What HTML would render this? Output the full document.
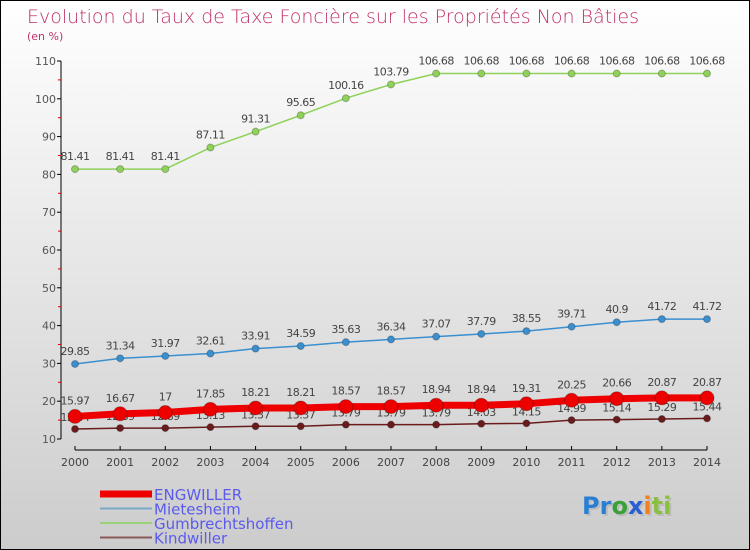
<!DOCTYPE html>
<html><head><meta charset="utf-8"><style>
body{margin:0;}
#c{width:750px;height:550px;position:relative;overflow:hidden;}
svg text{font-family:"DejaVu Sans","Liberation Sans",sans-serif;}
</style></head><body>
<div id="c">
<svg id="s" width="750" height="550" xmlns="http://www.w3.org/2000/svg">
<defs><linearGradient id="bg" x1="0" y1="0" x2="0" y2="1"><stop offset="0" stop-color="#ffffff"/><stop offset="1" stop-color="#cccccc"/></linearGradient></defs>
<rect x="0.5" y="0.5" width="749" height="549" fill="url(#bg)" stroke="#000"/>
<text x="27" y="23" font-size="19" fill="#c0306a" style="font-weight:200">Evolution du Taux de Taxe Foncière sur les Propriétés Non Bâties</text>
<text x="27" y="40" font-size="11" fill="#c0306a">(en %)</text>
<g id="axes"></g><g id="series"></g><g id="legend"></g>
<g font-size="24" font-weight="bold">
<text x="584" y="516" fill="#aaa" opacity="0.5">Proxiti</text>
<text x="582" y="514"><tspan fill="#2a7fd4">Pr</tspan><tspan fill="#3aa03a">o</tspan><tspan fill="#2a5fd4">x</tspan><tspan fill="#f08020">i</tspan><tspan fill="#8ac040">ti</tspan></text>
</g>
</svg></div>
<script>
const years=[2000,2001,2002,2003,2004,2005,2006,2007,2008,2009,2010,2011,2012,2013,2014];
const engwiller=[15.97,16.67,17,17.85,18.21,18.21,18.57,18.57,18.94,18.94,19.31,20.25,20.66,20.87,20.87];
const mietesheim=[29.85,31.34,31.97,32.61,33.91,34.59,35.63,36.34,37.07,37.79,38.55,39.71,40.9,41.72,41.72];
const gumbrecht=[81.41,81.41,81.41,87.11,91.31,95.65,100.16,103.79,106.68,106.68,106.68,106.68,106.68,106.68,106.68];
const kindwiller=[12.64,12.89,12.89,13.13,13.37,13.37,13.79,13.79,13.79,14.03,14.15,14.99,15.14,15.29,15.44];
const yTicks=[10,20,30,40,50,60,70,80,90,100,110];
const NS="http://www.w3.org/2000/svg";
const X=i=>75+i*(707-75)/(years.length-1);
const Y=v=>439-(v-10)*(439-61)/100;
function mk(t,a,p){const e=document.createElementNS(NS,t);for(const k in a)e.setAttribute(k,a[k]);p.appendChild(e);return e;}
const ax=document.getElementById('axes');
let l=mk('line',{x1:61,y1:61,x2:61,y2:439,stroke:'#000'},ax);

yTicks.forEach(v=>{mk('line',{x1:57,x2:61,y1:Y(v),y2:Y(v),stroke:'#000'},ax);
 if(v<110)mk('line',{x1:58,x2:61,y1:Y(v+5),y2:Y(v+5),stroke:'#d00'},ax);
 const t=mk('text',{x:56,y:Y(v)+4,'text-anchor':'end','font-size':11,fill:'#555'},ax);t.textContent=v;
 });
l=mk('line',{x1:75,y1:450,x2:707,y2:450,stroke:'#000'},ax);

years.forEach((y,i)=>{mk('line',{x1:X(i),x2:X(i),y1:446,y2:450,stroke:'#000'},ax);
 const t=mk('text',{x:X(i),y:466,'text-anchor':'middle','font-size':11,fill:'#444'},ax);t.textContent=y;
 });
const sg=document.getElementById('series');
function series(name,data,color,w,r,dy){
 const g=mk('g',{},sg);
 const p=mk('polyline',{points:data.map((v,i)=>X(i)+','+Y(v)).join(' '),fill:'none',stroke:color,'stroke-width':w},g);
 
 data.forEach((v,i)=>{const c=mk('circle',{cx:X(i),cy:Y(v),r:r,fill:color,stroke:'rgba(0,0,0,0.25)'},g);
  
  const t=mk('text',{x:X(i),y:Y(v)+dy,'text-anchor':'middle','font-size':11,fill:'#444','letter-spacing':'-0.5'},g);t.textContent=v;
  });
}
series('gumbrechtshoffen',gumbrecht,'#8fd25a',1.5,3.5,-9);
series('mietesheim',mietesheim,'#3a8fd0',1.5,3.5,-9);
series('kindwiller',kindwiller,'#6a1c1c',1.5,3.5,-8);
series('engwiller',engwiller,'#ee0000',7,7,-12);
const lg=document.getElementById('legend');
[['ENGWILLER','#ee0000',7],['Mietesheim','#7aa8c8',2],['Gumbrechtshoffen','#9ad27a',2],['Kindwiller','#8a5a5a',2]].forEach((e,i)=>{
 const y=494+i*14.5;const g=mk('g',{},lg);
 mk('line',{x1:100,x2:152,y1:y,y2:y,stroke:e[1],'stroke-width':e[2]},g);
 const t=mk('text',{x:154,y:y+6,'font-size':15,fill:'#5a5aee'},g);t.textContent=e[0];});
</script></body></html>
